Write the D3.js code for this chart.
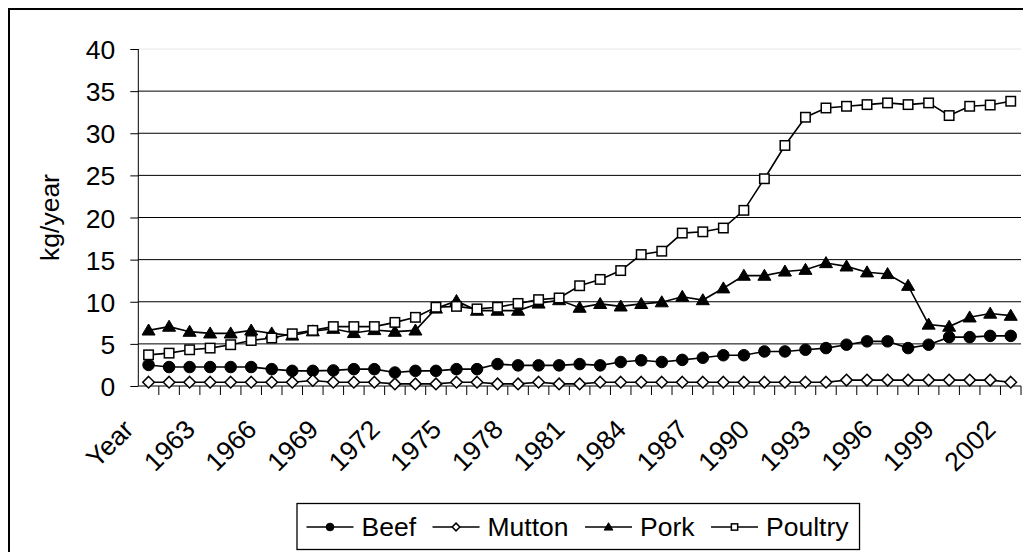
<!DOCTYPE html>
<html>
<head>
<meta charset="utf-8">
<script src="https://cdn.jsdelivr.net/npm/d3@7/dist/d3.min.js"></script>
<style>
  html, body { margin: 0; padding: 0; background: #fff; }
  svg { display: block; }
  text { font-family: "Liberation Sans", Arial, sans-serif; fill: #000; }
</style>
</head>
<body>
<svg id="chart" width="1023" height="552"></svg>
<script>
// Category labels along the x axis (first category is the header cell "Year")
const categories = ["Year"].concat(d3.range(1961, 2003).map(String));

// Per-capita consumption, kg/year
const beef = [2.5, 2.25, 2.25, 2.25, 2.25, 2.25, 2.0, 1.8, 1.8, 1.85,
  2.0, 2.0, 1.6, 1.8, 1.8, 2.0, 2.0, 2.6, 2.45, 2.45,
  2.45, 2.6, 2.45, 2.85, 3.05, 2.85, 3.1, 3.35, 3.65, 3.65,
  4.1, 4.1, 4.3, 4.5, 4.9, 5.3, 5.3, 4.5, 4.9, 5.8,
  5.8, 5.95, 5.95];
const mutton = [0.45, 0.45, 0.45, 0.45, 0.45, 0.45, 0.45, 0.45, 0.65, 0.45,
  0.45, 0.45, 0.25, 0.25, 0.25, 0.45, 0.45, 0.25, 0.25, 0.45,
  0.25, 0.25, 0.45, 0.45, 0.45, 0.45, 0.45, 0.45, 0.45, 0.45,
  0.45, 0.45, 0.45, 0.45, 0.7, 0.7, 0.7, 0.7, 0.7, 0.7,
  0.7, 0.7, 0.45];
const pork = [6.6, 7.05, 6.45, 6.25, 6.25, 6.6, 6.25, 6.0, 6.5, 6.8,
  6.3, 6.65, 6.45, 6.6, 9.2, 10.1, 8.95, 8.95, 8.95, 9.8,
  10.2, 9.3, 9.75, 9.45, 9.75, 9.95, 10.6, 10.2, 11.6, 13.1,
  13.1, 13.6, 13.8, 14.6, 14.2, 13.5, 13.3, 11.9, 7.3, 7.05,
  8.15, 8.6, 8.35];
const poultry = [3.7, 3.9, 4.3, 4.5, 4.9, 5.4, 5.7, 6.2, 6.6, 7.05,
  7.05, 7.05, 7.55, 8.15, 9.35, 9.45, 9.15, 9.35, 9.8, 10.25,
  10.45, 11.9, 12.65, 13.7, 15.6, 16.0, 18.15, 18.3, 18.75, 20.85,
  24.6, 28.55, 31.9, 33.0, 33.2, 33.4, 33.6, 33.4, 33.6, 32.1,
  33.2, 33.35, 33.8];

const seriesNames = ["Beef", "Mutton", "Pork", "Poultry"];
const yTicks = [0, 5, 10, 15, 20, 25, 30, 35, 40];
const yTitle = "kg/year";

const series = [
  { name: seriesNames[0], values: beef, marker: "circle" },
  { name: seriesNames[1], values: mutton, marker: "diamond" },
  { name: seriesNames[2], values: pork, marker: "triangle" },
  { name: seriesNames[3], values: poultry, marker: "square" }
];

const FONT = 26.5;
const svg = d3.select("#chart");

// chart frame
svg.append("rect")
  .attr("x", 9).attr("y", 9).attr("width", 1100).attr("height", 600)
  .attr("fill", "#fff").attr("stroke", "#000").attr("stroke-width", 2);

const plot = { left: 138.3, right: 1021, top: 49, bottom: 386 };

const x = d3.scaleBand().domain(categories).range([plot.left, plot.right]).padding(0);
const y = d3.scaleLinear().domain([0, 40]).range([plot.bottom, plot.top]);
const cx = c => x(c) + x.bandwidth() / 2;

// horizontal gridlines
svg.append("g").selectAll("line")
  .data(yTicks.filter(t => t > 0))
  .join("line")
  .attr("x1", plot.left).attr("x2", plot.right)
  .attr("y1", d => y(d)).attr("y2", d => y(d))
  .attr("stroke", d => d === 40 ? "#e6e6e6" : "#000")
  .attr("stroke-width", 1);

// y axis
const yAxis = svg.append("g")
  .attr("transform", `translate(${plot.left},0)`)
  .call(d3.axisLeft(y).tickValues(yTicks).tickSize(8).tickPadding(15).tickFormat(d3.format("d")));
yAxis.select(".domain").attr("stroke", "#000").attr("stroke-width", 1)
  .attr("d", `M0,${plot.bottom}V${plot.top}`);
yAxis.selectAll(".tick line").attr("stroke", "#000");
yAxis.selectAll(".tick text")
  .attr("font-size", FONT)
  .attr("font-family", "Liberation Sans, Arial, sans-serif")
  .attr("dy", "0.36em");

// y title
svg.append("text")
  .attr("transform", `translate(59,${(plot.top + plot.bottom) / 2}) rotate(-90)`)
  .attr("text-anchor", "middle")
  .attr("font-size", FONT)
  .text(yTitle);

// x axis line and tick marks at category boundaries
svg.append("line")
  .attr("x1", plot.left).attr("x2", plot.right)
  .attr("y1", plot.bottom).attr("y2", plot.bottom)
  .attr("stroke", "#000").attr("stroke-width", 1);
const boundaries = categories.map(c => x(c)).concat([plot.right]);
svg.append("g").selectAll("line")
  .data(boundaries.slice(1))
  .join("line")
  .attr("x1", d => d).attr("x2", d => d)
  .attr("y1", plot.bottom).attr("y2", plot.bottom + 9)
  .attr("stroke", "#000").attr("stroke-width", 1);

// x tick labels, every third category, rotated
svg.append("g").selectAll("text")
  .data(categories.filter((c, i) => i % 3 === 0))
  .join("text")
  .attr("transform", d => `translate(${cx(d) - 13.5},431) rotate(-45)`)
  .attr("text-anchor", "end")
  .attr("font-size", FONT)
  .text(d => d);

// marker drawing
function drawMarker(g, type, size) {
  const s = size;
  if (type === "circle") {
    g.append("circle").attr("r", s * 0.55).attr("fill", "#000").attr("stroke", "#000").attr("stroke-width", 1);
  } else if (type === "diamond") {
    const r = s * 0.55;
    g.append("path").attr("d", `M0,${-r}L${r},0L0,${r}L${-r},0Z`)
      .attr("fill", "#fff").attr("stroke", "#000").attr("stroke-width", 1.5);
  } else if (type === "triangle") {
    const w = s * 0.62, h = s * 1.05;
    g.append("path").attr("d", `M0,${-h * 0.58}L${w},${h * 0.42}L${-w},${h * 0.42}Z`)
      .attr("fill", "#000").attr("stroke", "#000").attr("stroke-width", 1);
  } else if (type === "square") {
    const r = s * 0.45;
    g.append("rect").attr("x", -r).attr("y", -r).attr("width", 2 * r).attr("height", 2 * r)
      .attr("fill", "#fff").attr("stroke", "#000").attr("stroke-width", 1.5);
  }
}

// series lines and markers
const line = d3.line().x((d, i) => cx(categories[i])).y(d => y(d));
series.forEach(s => {
  const g = svg.append("g");
  g.append("path").datum(s.values)
    .attr("d", line).attr("fill", "none")
    .attr("stroke", "#000").attr("stroke-width", 1.6);
  s.values.forEach((v, i) => {
    const m = g.append("g").attr("transform", `translate(${cx(categories[i])},${y(v)})`);
    drawMarker(m, s.marker, 10.5);
  });
});

// legend
const legend = svg.append("g");
const legendBox = legend.append("rect")
  .attr("x", 297).attr("y", 503.5).attr("height", 46)
  .attr("fill", "#fff").attr("stroke", "#000").attr("stroke-width", 1.3);
let lx = 306.5;
series.forEach(s => {
  legend.append("line")
    .attr("x1", lx).attr("x2", lx + 47).attr("y1", 527).attr("y2", 527)
    .attr("stroke", "#000").attr("stroke-width", 1.6);
  const m = legend.append("g").attr("transform", `translate(${lx + 23.5},527)`);
  drawMarker(m, s.marker, 7);
  const t = legend.append("text")
    .attr("x", lx + 55).attr("y", 536)
    .attr("font-size", FONT)
    .text(s.name);
  lx = lx + 55 + t.node().getComputedTextLength() + 16.5;
});
legendBox.attr("width", lx - 297 - 16.5 + 11);
</script>
</body>
</html>
